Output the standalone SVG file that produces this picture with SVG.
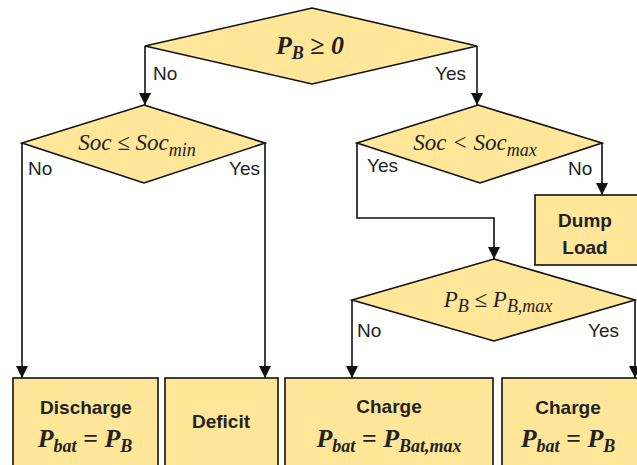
<svg xmlns="http://www.w3.org/2000/svg" width="637" height="465" viewBox="0 0 637 465">
<style>
.shape{fill:#FFE699;stroke:#111;stroke-width:1.6}
.conn{fill:none;stroke:#111;stroke-width:1.6}
.lbl{font-family:"Liberation Sans",Arial,sans-serif;font-size:19px;fill:#222}
.bt{font-family:"Liberation Sans",Arial,sans-serif;font-size:19px;font-weight:bold;fill:#222;text-anchor:middle}
.m{font-family:"Liberation Serif","Times New Roman",serif;font-style:italic;font-size:23px;fill:#222;text-anchor:middle}
.mb{font-family:"Liberation Serif","Times New Roman",serif;font-style:italic;font-weight:bold;font-size:26px;fill:#222;text-anchor:middle}
.sub{font-size:18px}
</style>
<defs>
<marker id="arr" markerUnits="userSpaceOnUse" markerWidth="12" markerHeight="12" refX="12" refY="6" orient="auto">
<path d="M0,0 L12,6 L0,12 z" fill="#111"/>
</marker>
</defs>
<g id="connectors">
<path class="conn" d="M145,46 V105" marker-end="url(#arr)"/>
<path class="conn" d="M477,46 V105" marker-end="url(#arr)"/>
<path class="conn" d="M22,143 V378" marker-end="url(#arr)"/>
<path class="conn" d="M265,143 V378" marker-end="url(#arr)"/>
<path class="conn" d="M357,143 V218 H494 V259" marker-end="url(#arr)"/>
<path class="conn" d="M602,143 V195" marker-end="url(#arr)"/>
<path class="conn" d="M352,300 V378" marker-end="url(#arr)"/>
<path class="conn" d="M635,300 V378" marker-end="url(#arr)"/>
<text class="lbl" x="153" y="80">No</text>
<text class="lbl" x="435" y="80">Yes</text>
<text class="lbl" x="28" y="175">No</text>
<text class="lbl" x="229" y="175">Yes</text>
<text class="lbl" x="367" y="172">Yes</text>
<text class="lbl" x="568" y="175">No</text>
<text class="lbl" x="357" y="337">No</text>
<text class="lbl" x="588" y="337">Yes</text>
</g>
<g id="d1">
<polygon class="shape" points="312,8 477,46 312,84 145,46"/>
<text class="mb" x="310" y="54">P<tspan class="sub" dy="5">B</tspan><tspan dy="-5"> ≥ 0</tspan></text>
</g>
<g id="d2">
<polygon class="shape" points="144,105 265,143 144,183 22,143"/>
<text class="m" x="137" y="150">Soc ≤ Soc<tspan class="sub" dy="6">min</tspan></text>
</g>
<g id="d3">
<polygon class="shape" points="478,105 602,143 480,183 357,143"/>
<text class="m" x="475" y="150">Soc &lt; Soc<tspan class="sub" dy="6">max</tspan></text>
</g>
<g id="dump">
<rect class="shape" x="535" y="195" width="110" height="70"/>
<text class="bt" x="585" y="227" font-size="18">Dump</text>
<text class="bt" x="585" y="254" font-size="18">Load</text>
</g>
<g id="d4">
<polygon class="shape" points="494,259 635,300 494,341 352,300"/>
<text class="m" x="498" y="307">P<tspan class="sub" dy="5">B</tspan><tspan dy="-5"> ≤ P</tspan><tspan class="sub" dy="5">B,max</tspan></text>
</g>
<g id="b1">
<rect class="shape" x="13" y="378" width="145" height="100"/>
<text class="bt" x="86" y="414">Discharge</text>
<text class="mb" x="85" y="447">P<tspan class="sub" dy="5">bat</tspan><tspan dy="-5"> = P</tspan><tspan class="sub" dy="5">B</tspan></text>
</g>
<g id="b2">
<rect class="shape" x="165" y="378" width="113" height="100"/>
<text class="bt" x="221" y="428">Deficit</text>
</g>
<g id="b3">
<rect class="shape" x="285" y="378" width="208" height="100"/>
<text class="bt" x="389" y="413">Charge</text>
<text class="mb" x="389" y="447">P<tspan class="sub" dy="5">bat</tspan><tspan dy="-5"> = P</tspan><tspan class="sub" dy="5">Bat,max</tspan></text>
</g>
<g id="b4">
<rect class="shape" x="502" y="378" width="145" height="100"/>
<text class="bt" x="568" y="414">Charge</text>
<text class="mb" x="568" y="447">P<tspan class="sub" dy="5">bat</tspan><tspan dy="-5"> = P</tspan><tspan class="sub" dy="5">B</tspan></text>
</g>
</svg>
